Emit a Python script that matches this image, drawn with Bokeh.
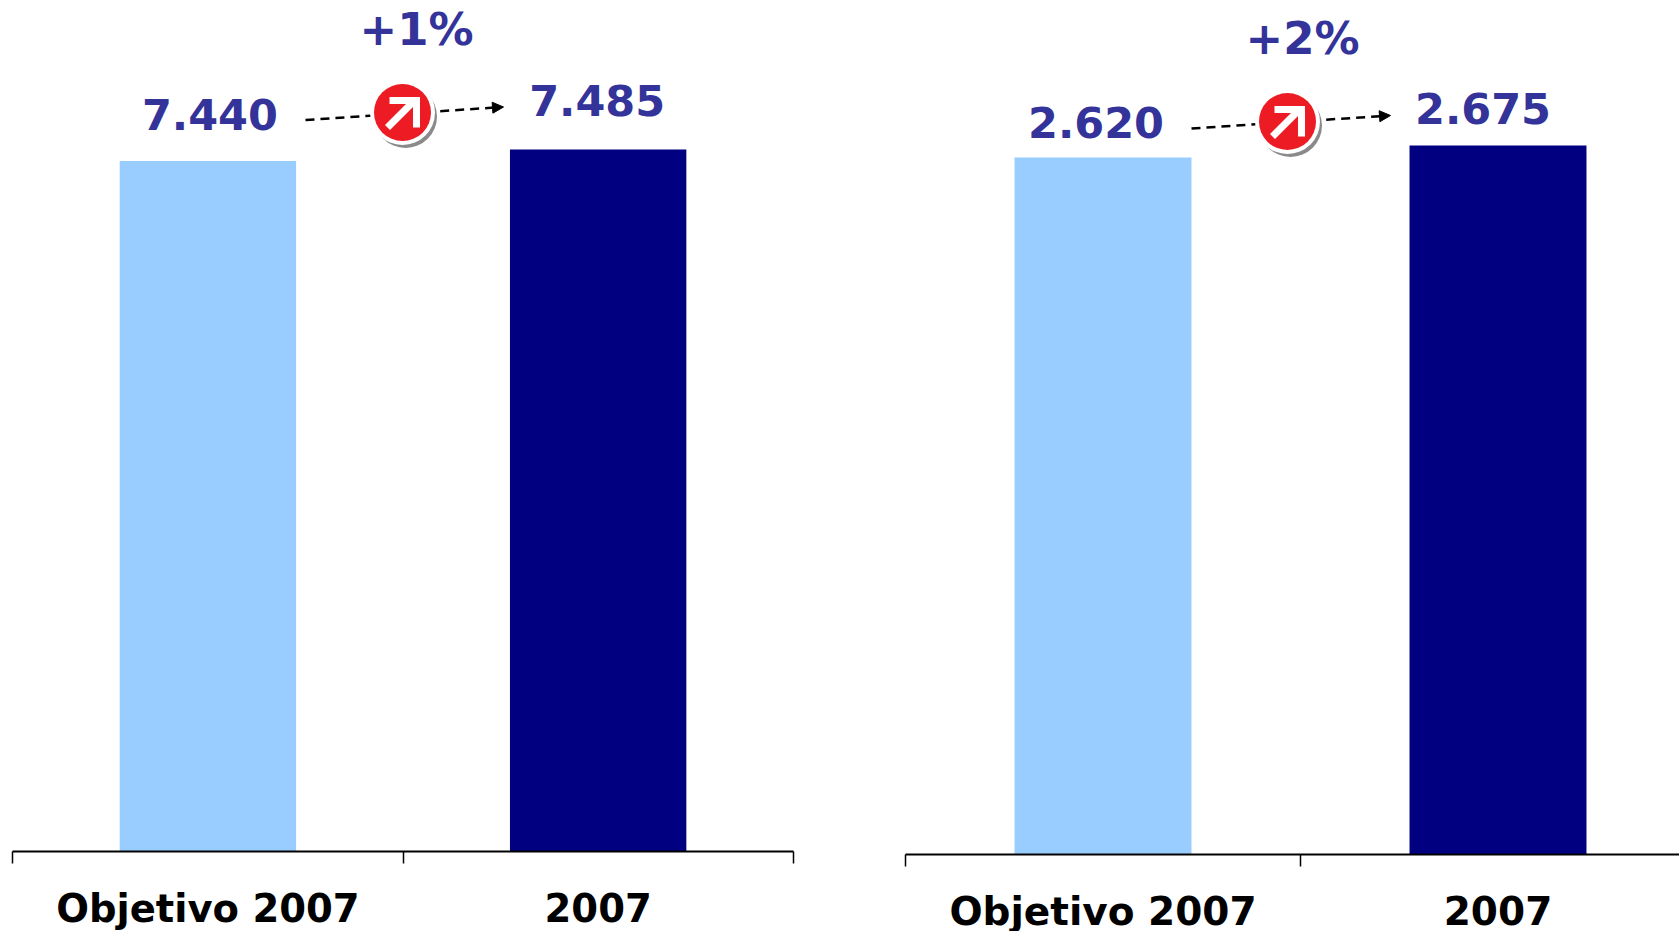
from bokeh.plotting import figure
from bokeh.layouts import row
from bokeh.models import Range1d, FixedTicker, Arrow, NormalHead
from bokeh.core.properties import value
from bokeh.embed import file_html
from bokeh.resources import INLINE

categories = ["Objetivo 2007", "2007"]
left_values = [7440, 7485]
right_values = [2620, 2675]
left_label = "+1%"
right_label = "+2%"
bar_colors = ["#99CCFF", "#000080"]
label_color = "#333399"
FONT = "DejaVu Sans"


def fmt(v):
    return f"{v:,}".replace(",", ".")


def panel(values, change, ox, width, axis_y, x0, unit, bar_w, base, k, ticks_minor, bounds,
          offs, pct, dash, badge, cat_size, standoff):
    """ox: panel's left edge on the page; axis_y: frame bottom; x0: page x of category 0."""
    x_start = -(x0 - ox) / unit
    x_end = x_start + width / unit
    y_end = base + axis_y / k
    p = figure(frame_width=width, frame_height=axis_y, x_range=Range1d(x_start, x_end), y_range=Range1d(base, y_end),
               toolbar_location=None, output_backend="svg", y_axis_location=None,
               min_border_left=0, min_border_right=0, min_border_top=0, min_border_bottom=0)
    p.outline_line_color = None
    p.grid.visible = False
    p.background_fill_color = "white"

    X = lambda px: x_start + (px - ox) / unit
    Y = lambda py: base + (axis_y - py) * 1.0 / k

    p.vbar(x=[0, 1], top=values, bottom=base, width=bar_w, fill_color=bar_colors, line_color=None)

    ax = p.xaxis[0]
    ax.ticker = FixedTicker(ticks=[0, 1], minor_ticks=ticks_minor)
    ax.major_label_overrides = dict(enumerate(categories))
    ax.bounds = bounds
    ax.axis_line_color = "black"
    ax.axis_line_width = 2
    ax.major_tick_line_color = None
    ax.major_tick_out = 0
    ax.major_tick_in = 0
    ax.minor_tick_line_color = "black"
    ax.minor_tick_line_width = 1.5
    ax.minor_tick_out = 12
    ax.minor_tick_in = 0
    ax.major_label_standoff = standoff
    ax.major_label_text_font = FONT
    ax.major_label_text_font_style = "bold"
    ax.major_label_text_font_size = cat_size
    ax.major_label_text_color = "black"

    # value labels
    p.text(x=[0, 1], y=values, text=[fmt(v) for v in values], x_offset=offs[0], y_offset=offs[1],
           text_font=value(FONT), text_font_style="bold", text_font_size="43px",
           text_color=label_color, text_align="center", text_baseline="middle")

    # change label
    p.text(x=[X(pct[0])], y=[Y(pct[1])], text=[change], text_font=value(FONT), text_font_style="bold",
           text_font_size="45px", text_color=label_color, text_align="center", text_baseline="middle")

    # dashed arrow
    p.add_layout(Arrow(x_start=X(dash[0]), y_start=Y(dash[1]), x_end=X(dash[2]), y_end=Y(dash[3]),
                       line_color="black", line_width=2.5, line_dash="9 6",
                       end=NormalHead(size=11, fill_color="black", line_color="black", line_width=1),
                       level="underlay"))

    # badge
    bx, by = badge
    p.scatter(x=[X(bx + 3)], y=[Y(by + 4)], size=63, fill_color="#8a8a8a", line_color=None)
    p.scatter(x=[X(bx)], y=[Y(by)], size=65, fill_color="white", line_color=None)
    p.scatter(x=[X(bx)], y=[Y(by)], size=57, fill_color="#ED1C24", line_color=None)
    p.line(x=[X(bx - 15), X(bx + 11)], y=[Y(by + 15), Y(by - 11)], line_color="white", line_width=7)
    p.line(x=[X(bx - 13), X(bx + 14), X(bx + 14)], y=[Y(by - 12), Y(by - 12), Y(by + 15)],
           line_color="white", line_width=7, line_join="miter")
    return p


LW = 840
p1 = panel(left_values, left_label, 0, LW, 851, 207.4, 390.25, 0.452, 4762, 0.2578,
           [-0.5, 0.5, 1.5], (-0.5, 1.5),
           ([2, -1], [-47, -49]), (416, 29), (305, 119.5, 503, 106.5), (402, 112), "38.5px", 22)
p2 = panel(right_values, right_label, LW, 1679 - LW, 854, 1102.5, 395.0, 0.448, -630, 0.2145,
           [-0.5, 0.5, 1.5], (-0.5, 2.0),
           ([-7, -15], [-35, -37]), (1302, 38), (1191, 128, 1390, 115), (1287, 121), "39px", 22)

layout = row(p1, p2, margin=(0, 0, -30, 0), spacing=0)
open("out.html", "w").write(file_html(layout, INLINE))
